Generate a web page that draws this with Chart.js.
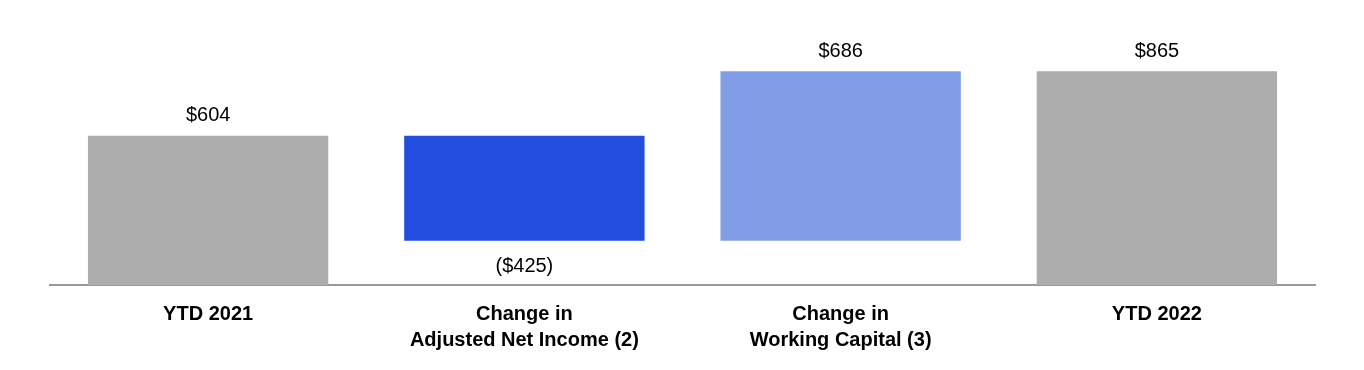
<!DOCTYPE html>
<html>
<head>
<meta charset="utf-8">
<script src="https://cdn.jsdelivr.net/npm/chart.js@4/dist/chart.umd.min.js"></script>
<style>
  html, body { margin: 0; padding: 0; background: #fff; }
  #wrap { width: 1364px; height: 370px; }
</style>
</head>
<body>
<div id="wrap"><canvas id="bridge" width="1364" height="370"></canvas></div>
<script>
// YTD cash flow bridge ($ millions)
var categories = [["YTD 2021"], ["Change in", "Adjusted Net Income (2)"], ["Change in", "Working Capital (3)"], ["YTD 2022"]];
var steps = [604, -425, 686, 865];
var isTotal = [true, false, false, true];
var labels = ["$604", "($425)", "$686", "$865"];
var colors = ["#adadad", "#234ddf", "#829de8", "#adadad"];

// build floating ranges for the waterfall
var ranges = [];
var running = 0;
steps.forEach(function(v, i) {
  if (isTotal[i]) {
    ranges.push([0, v]);
    running = v;
  } else {
    ranges.push([running, running + v]);
    running += v;
  }
});

var valueLabels = {
  id: 'valueLabels',
  afterDatasetsDraw: function(chart) {
    var ctx = chart.ctx;
    var meta = chart.getDatasetMeta(0);
    ctx.save();
    ctx.font = '20px "Liberation Sans", Arial, sans-serif';
    ctx.fillStyle = '#000';
    ctx.textAlign = 'center';
    ctx.textBaseline = 'middle';
    meta.data.forEach(function(bar, i) {
      var top = Math.min(bar.y, bar.base);
      var bottom = Math.max(bar.y, bar.base);
      if (steps[i] < 0) {
        ctx.fillText(labels[i], bar.x, bottom + 26);
      } else {
        ctx.fillText(labels[i], bar.x, top - 20);
      }
    });
    ctx.restore();
  }
};

new Chart(document.getElementById("bridge"), {
  type: 'bar',
  data: {
    labels: categories,
    datasets: [{
      data: ranges,
      backgroundColor: colors,
      borderWidth: 0,
      borderSkipped: false,
      barPercentage: 0.76,
      categoryPercentage: 1.0
    }]
  },
  options: {
    responsive: false,
    animation: false,
    layout: { padding: { left: 50, right: 49, top: 38, bottom: 0 } },
    plugins: {
      legend: { display: false },
      tooltip: { enabled: false }
    },
    scales: {
      x: {
        grid: { display: false, drawTicks: false },
        border: { display: true, color: '#999999', width: 2 },
        ticks: {
          color: '#000',
          padding: 16,
          maxRotation: 0,
          font: { family: '"Liberation Sans", Arial, sans-serif', size: 20, weight: 'bold', lineHeight: 1.3 }
        },
        afterFit: function(scale) { scale.height = 85; }
      },
      y: {
        display: false,
        min: 0,
        max: 1000
      }
    }
  },
  plugins: [valueLabels]
});
</script>
</body>
</html>
